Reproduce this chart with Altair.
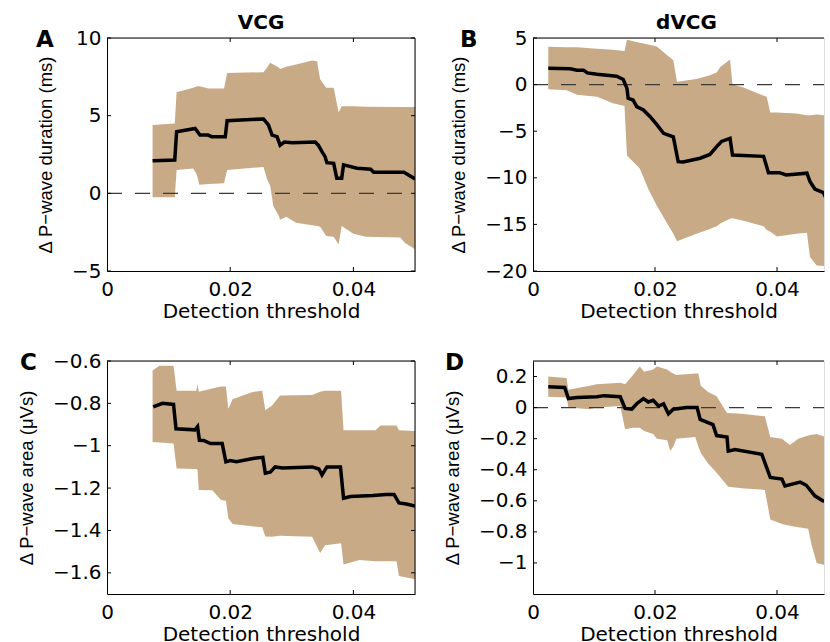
import altair as alt
import pandas as pd

# ---------------- data ----------------
x_ticks = [0.02, 0.04]
x_labels = [0, 0.02, 0.04]

# Panel A: VCG, P-wave duration (ms)
a_band_x = [0.0074, 0.0110, 0.0113, 0.0140, 0.0146, 0.0150, 0.0165, 0.0190, 0.0195, 0.0254,
            0.0260, 0.0265, 0.0270, 0.0279, 0.0281, 0.0291, 0.0307, 0.0333, 0.0341, 0.0346,
            0.0356, 0.0368, 0.0376, 0.0381, 0.0400, 0.0420, 0.0476, 0.0484, 0.0500]
a_band_hi = [4.4, 4.5, 6.5, 6.8, 6.9, 6.9, 6.75, 6.75, 7.75, 7.8,
             8.1, 8.4, 8.3, 8.1, 8.0, 8.15, 8.3, 8.55, 8.5, 7.35,
             6.8, 6.8, 5.2, 5.6, 5.6, 5.58, 5.55, 5.55, 5.55]
a_band_lo = [-0.26, -0.26, 1.5, 1.6, 1.2, 0.55, 0.6, 0.65, 1.5, 1.7,
             0.9, 0.47, -0.82, -1.46, -1.7, -1.5, -1.9, -2.05, -2.1, -2.15,
             -2.75, -2.8, -3.3, -2.1, -2.6, -2.8, -2.85, -3.2, -3.6]
a_line_x = [0.0074, 0.0110, 0.0113, 0.0143, 0.0151, 0.0164, 0.0170, 0.0192, 0.0195, 0.0254,
            0.0262, 0.0268, 0.0276, 0.0281, 0.0288, 0.0301, 0.0338, 0.0343, 0.0349, 0.0354,
            0.0357, 0.0368, 0.0373, 0.0381, 0.0384, 0.0406, 0.0428, 0.0433, 0.0482, 0.0500]
a_line_y = [2.1, 2.15, 3.97, 4.18, 3.75, 3.75, 3.65, 3.65, 4.68, 4.79,
            4.4, 3.75, 3.65, 3.1, 3.3, 3.25, 3.3, 3.1, 2.68, 2.36,
            1.97, 1.93, 0.97, 0.97, 1.83, 1.62, 1.55, 1.36, 1.36, 0.93]
a_yticks = [-5, 0, 5, 10]

# Panel B: dVCG, P-wave duration (ms)
b_band_x = [0.0025, 0.0055, 0.0072, 0.0105, 0.0131, 0.0150, 0.0154, 0.0175, 0.0189, 0.0203,
            0.0219, 0.0230, 0.0236, 0.0268, 0.0290, 0.0301, 0.0307, 0.0323, 0.0327, 0.0345,
            0.0378, 0.0383, 0.0389, 0.0400, 0.0432, 0.0449, 0.0454, 0.0465, 0.0487, 0.0500]
b_band_hi = [4.05, 4.0, 4.0, 3.85, 3.75, 3.6, 4.8, 4.5, 4.3, 4.1,
             3.2, 2.6, 0.3, 0.6, 1.0, 1.3, 1.9, 2.7, 0.0, -0.3,
             -1.2, -1.3, -3.0, -3.0, -3.1, -3.3, -3.3, -3.2, -3.35, -3.4]
b_band_lo = [-0.5, -0.6, -1.1, -1.3, -2.0, -2.3, -7.6, -9.0, -11.2, -13.0,
             -14.8, -16.0, -16.8, -16.0, -15.5, -15.2, -14.9, -14.4, -14.35, -14.6,
             -15.2, -15.6, -15.8, -16.3, -16.0, -15.9, -18.5, -19.4, -19.5, -19.5]
b_line_x = [0.0025, 0.0061, 0.0072, 0.0083, 0.0089, 0.0105, 0.0137, 0.0148, 0.0154, 0.0156,
            0.0164, 0.0170, 0.0181, 0.0192, 0.0203, 0.0214, 0.0230, 0.0238, 0.0246, 0.0274,
            0.0290, 0.0301, 0.0309, 0.0323, 0.0327, 0.0345, 0.0378, 0.0386, 0.0404, 0.0415,
            0.0449, 0.0454, 0.0462, 0.0476, 0.0484, 0.0500]
b_line_y = [1.75, 1.7, 1.55, 1.55, 1.25, 1.1, 0.9, 0.55, -0.4, -1.47,
            -1.65, -2.37, -2.73, -3.44, -4.3, -5.23, -5.6, -8.27, -8.3, -7.9,
            -7.5, -6.66, -6.1, -5.76, -7.55, -7.6, -7.7, -9.45, -9.45, -9.7,
            -9.5, -10.4, -11.2, -11.6, -12.7, -13.5]
b_yticks = [-20, -15, -10, -5, 0, 5]

# Panel C: VCG, P-wave area (uVs)
c_band_x = [0.0074, 0.0085, 0.0108, 0.0113, 0.0145, 0.0147, 0.0149, 0.0171, 0.0185, 0.0193,
            0.0197, 0.0204, 0.0235, 0.0252, 0.0257, 0.0268, 0.0281, 0.0333, 0.0346, 0.0354,
            0.0380, 0.0384, 0.0410, 0.0436, 0.0444, 0.0470, 0.0474, 0.0500]
c_band_hi = [-0.645, -0.622, -0.622, -0.74, -0.74, -0.708, -0.745, -0.73, -0.72, -0.72,
             -0.825, -0.78, -0.747, -0.74, -0.833, -0.81, -0.763, -0.76, -0.745, -0.74,
             -0.74, -0.927, -0.927, -0.927, -0.904, -0.904, -0.927, -0.93]
c_band_lo = [-0.982, -0.985, -0.99, -1.107, -1.11, -1.115, -1.209, -1.21, -1.256, -1.26,
             -1.342, -1.37, -1.38, -1.385, -1.428, -1.43, -1.425, -1.43, -1.506, -1.47,
             -1.46, -1.561, -1.54, -1.545, -1.545, -1.545, -1.615, -1.63]
c_line_x = [0.0075, 0.0090, 0.0108, 0.0112, 0.0143, 0.0147, 0.0150, 0.0157, 0.0168, 0.0187,
            0.0193, 0.0200, 0.0210, 0.0237, 0.0253, 0.0257, 0.0265, 0.0273, 0.0285, 0.0333,
            0.0344, 0.0349, 0.0357, 0.0379, 0.0384, 0.0395, 0.0432, 0.0453, 0.0466, 0.0474,
            0.0486, 0.0500]
c_line_y = [-0.817, -0.80, -0.805, -0.92, -0.925, -0.91, -0.974, -0.975, -0.99, -0.99,
            -1.076, -1.07, -1.075, -1.06, -1.055, -1.13, -1.125, -1.10, -1.105, -1.10,
            -1.11, -1.138, -1.10, -1.10, -1.248, -1.24, -1.235, -1.23, -1.23, -1.27,
            -1.275, -1.285]
c_yticks = [-1.6, -1.4, -1.2, -1.0, -0.8, -0.6]

# Panel D: dVCG, P-wave area (uVs)
d_band_x = [0.0025, 0.0055, 0.0058, 0.0093, 0.0104, 0.0143, 0.0151, 0.0164, 0.0175, 0.0182,
            0.0197, 0.0203, 0.0220, 0.0225, 0.0230, 0.0235, 0.0266, 0.0271, 0.0275, 0.0287,
            0.0301, 0.0318, 0.0320, 0.0342, 0.0380, 0.0389, 0.0408, 0.0421, 0.0435, 0.0451,
            0.0457, 0.0465, 0.0487, 0.0500]
d_band_hi = [0.20, 0.19, 0.115, 0.14, 0.15, 0.16, 0.15, 0.21, 0.265, 0.23,
             0.245, 0.265, 0.245, 0.23, 0.22, 0.21, 0.22, 0.22, 0.14, 0.10,
             0.073, -0.034, -0.035, -0.04, -0.056, -0.19, -0.20, -0.24, -0.20, -0.18,
             -0.175, -0.17, -0.20, -0.20]
d_band_lo = [0.07, 0.065, 0.0, -0.01, 0.0, 0.01, -0.14, -0.13, -0.13, -0.15,
             -0.17, -0.20, -0.21, -0.28, -0.25, -0.20, -0.19, -0.25, -0.29, -0.36,
             -0.42, -0.50, -0.51, -0.52, -0.53, -0.72, -0.75, -0.76, -0.77, -0.78,
             -0.89, -1.0, -1.02, -1.02]
d_line_x = [0.0025, 0.0052, 0.0058, 0.0072, 0.0105, 0.0116, 0.0143, 0.0151, 0.0162, 0.0170,
            0.0181, 0.0189, 0.0197, 0.0206, 0.0214, 0.0222, 0.0230, 0.0252, 0.0269, 0.0274,
            0.0295, 0.0301, 0.0318, 0.0320, 0.0331, 0.0375, 0.0389, 0.0408, 0.0413, 0.0438,
            0.0448, 0.0462, 0.0475, 0.0487, 0.0500]
d_line_y = [0.134, 0.13, 0.058, 0.065, 0.07, 0.077, 0.07, -0.005, -0.01, 0.025,
            0.058, 0.036, 0.047, 0.01, 0.025, -0.04, -0.01, 0.0, 0.0, -0.076,
            -0.11, -0.18, -0.19, -0.28, -0.27, -0.30, -0.45, -0.46, -0.504, -0.48,
            -0.50, -0.568, -0.60, -0.61, -0.63]
d_yticks = [-1.0, -0.8, -0.6, -0.4, -0.2, 0, 0.2]

# ---------------- styling ----------------
TAN = "#C9AA87"
FONT = "DejaVu Sans"
TITLE_FONT = "Liberation Sans"
H = 233
W_LEFT = 308
W_RIGHT = 291
XMAX_LEFT = 0.05
XMAX_RIGHT = 0.0477


def panel(band_x, band_hi, band_lo, line_x, line_y, ydom, yticks, ytitle,
          letter, letter_dx, width, xmax, right_border, show_zero, title=None, title_dx=0):
    xs = alt.Scale(domain=[0, xmax], nice=False, zero=False)
    ys = alt.Scale(domain=ydom, nice=False, zero=False)
    xaxis = alt.Axis(values=x_labels, format="~r", ticks=False, grid=False,
                     domain=True, domainColor="black", domainWidth=1,
                     labelFont=FONT, labelFontSize=20, labelColor="black",
                     labelPadding=8, labelFlush=False,
                     title="Detection threshold", titleFont=FONT, titleFontSize=20,
                     titleFontWeight="normal", titleColor="black", titlePadding=2)
    yaxis = alt.Axis(values=yticks, format="~r", ticks=False, grid=False,
                     domain=True, domainColor="black", domainWidth=1,
                     labelFont=FONT, labelFontSize=20, labelColor="black",
                     labelPadding=6,
                     title=ytitle, titleFont=TITLE_FONT, titleFontSize=18.5,
                     titleFontWeight="normal", titleColor="black", titlePadding=16)

    def X(f):
        return alt.X(f, scale=xs, axis=xaxis)

    def Y(f):
        return alt.Y(f, scale=ys, axis=yaxis)

    band_df = pd.DataFrame({"x": band_x, "hi": band_hi, "lo": band_lo})
    line_df = pd.DataFrame({"x": line_x, "y": line_y})
    layers = [
        alt.Chart(band_df).mark_area(color=TAN, opacity=1, clip=True).encode(
            x=X("x:Q"), y=Y("hi:Q"), y2="lo:Q")
    ]
    if show_zero:
        zdf = pd.DataFrame({"z": [0]})
        layers.append(alt.Chart(zdf).mark_rule(color="#3a3a3a", strokeWidth=1.4,
                                               strokeDash=[15, 13]).encode(
            y=Y("z:Q"), x=alt.value(0), x2=alt.value(width)))
    layers.append(alt.Chart(line_df).mark_line(color="black", strokeWidth=3.5, clip=True).encode(
        x=X("x:Q"), y=Y("y:Q")))
    one = pd.DataFrame({"t": [letter]})
    # frame: top border, right border
    layers.append(alt.Chart(one).mark_rule(color="black", strokeWidth=1).encode(
        x=alt.value(0), x2=alt.value(width), y=alt.value(0)))
    if right_border:
        layers.append(alt.Chart(one).mark_rule(color="black", strokeWidth=1).encode(
            x=alt.value(width), y=alt.value(0), y2=alt.value(H)))
    # inward ticks
    xt = pd.DataFrame({"v": x_ticks})
    yt = pd.DataFrame({"v": yticks})
    layers.append(alt.Chart(xt).mark_rule(color="black", strokeWidth=1).encode(
        x=X("v:Q"), y=alt.value(H), y2=alt.value(H - 4)))
    layers.append(alt.Chart(xt).mark_rule(color="black", strokeWidth=1).encode(
        x=X("v:Q"), y=alt.value(0), y2=alt.value(4)))
    layers.append(alt.Chart(yt).mark_rule(color="black", strokeWidth=1).encode(
        y=Y("v:Q"), x=alt.value(0), x2=alt.value(4)))
    if right_border:
        layers.append(alt.Chart(yt).mark_rule(color="black", strokeWidth=1).encode(
            y=Y("v:Q"), x=alt.value(width), x2=alt.value(width - 4)))
    # panel letter
    layers.append(alt.Chart(one).mark_text(font=FONT, fontSize=23, fontWeight="bold",
                                           align="left", baseline="alphabetic",
                                           color="black").encode(
        text="t:N", x=alt.value(letter_dx), y=alt.value(9)))
    props = dict(width=width, height=H)
    if title is not None:
        props["title"] = alt.TitleParams(text=title, font=FONT, fontSize=20, fontWeight="bold",
                                         color="black", anchor="middle", offset=-5, dx=title_dx)
    return alt.layer(*layers).properties(**props)


dur_title = "\u0394 P\u2212wave duration (ms)"
area_title = "\u0394 P\u2212wave area (\u03bcVs)"

pA = panel(a_band_x, a_band_hi, a_band_lo, a_line_x, a_line_y, [-5, 10], a_yticks, dur_title,
           "A", -71, W_LEFT, XMAX_LEFT, True, True, title="VCG")
pB = panel(b_band_x, b_band_hi, b_band_lo, b_line_x, b_line_y, [-20, 5], b_yticks, dur_title,
           "B", -73, W_RIGHT, XMAX_RIGHT, False, True, title="dVCG", title_dx=8)
pC = panel(c_band_x, c_band_hi, c_band_lo, c_line_x, c_line_y, [-1.7, -0.6], c_yticks, area_title,
           "C", -87, W_LEFT, XMAX_LEFT, True, False)
pD = panel(d_band_x, d_band_hi, d_band_lo, d_line_x, d_line_y, [-1.2, 0.3], d_yticks, area_title,
           "D", -88, W_RIGHT, XMAX_RIGHT, False, True)

chart = alt.concat(pA, pB, pC, pD, columns=2, spacing={"row": 90, "column": 118},
                   bounds="flush").properties(
    padding={"left": 16, "top": 12, "right": 0, "bottom": 0}
).configure_view(strokeWidth=0).configure(background="white")

chart.save("out.html", embed_options={"renderer": "svg", "actions": False})
